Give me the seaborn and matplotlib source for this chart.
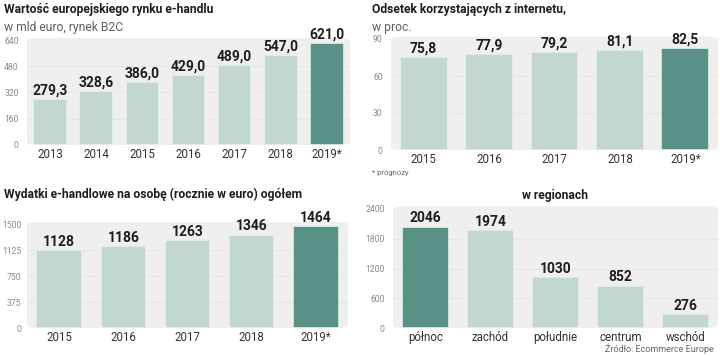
import numpy as np
import pandas as pd
import matplotlib
matplotlib.use("Agg")
import matplotlib.pyplot as plt
import seaborn as sns
from matplotlib.patches import FancyBboxPatch

# =========================
# DATA
# =========================
market_years = ["2013", "2014", "2015", "2016", "2017", "2018", "2019*"]
market_values = [279.3, 328.6, 386.0, 429.0, 489.0, 547.0, 621.0]

internet_years = ["2015", "2016", "2017", "2018", "2019*"]
internet_values = [75.8, 77.9, 79.2, 81.1, 82.5]

spend_years = ["2015", "2016", "2017", "2018", "2019*"]
spend_values = [1128, 1186, 1263, 1346, 1464]

regions = ["północ", "zachód", "południe", "centrum", "wschód"]
region_values = [2046, 1974, 1030, 852, 276]

# =========================
# STYLE
# =========================
sns.set_style("white")
plt.rcParams["font.family"] = ["Roboto", "DejaVu Sans"]

LIGHT = "#bfdad2"
DARK = "#4f9a8b"
BG = "#efefef"
W, H = 720, 356

fig = plt.figure(figsize=(7.2, 3.56), dpi=100)
fig.patch.set_facecolor("white")


def px_axes(left, top, right, bottom):
    return fig.add_axes([left / W, 1 - bottom / H, (right - left) / W, (bottom - top) / H])


def panel(ax, cats, vals, highlight, yticks, fmt, width, pad=6):
    df = pd.DataFrame({"cat": cats, "val": vals})
    df["hl"] = ["h" if c == highlight else "n" for c in cats]
    sns.barplot(data=df, x="cat", y="val", hue="hl", palette={"h": DARK, "n": LIGHT},
                dodge=False, legend=False, width=width, ax=ax,
                edgecolor="#e9f0ed", linewidth=1.2, zorder=3)
    ax.set_facecolor("none")
    ax.add_patch(FancyBboxPatch((0.0, 0.0), 1.0, 1.02, boxstyle="round,pad=0,rounding_size=0.03",
                                transform=ax.transAxes, facecolor=BG, edgecolor="none",
                                zorder=0, clip_on=False))
    ax.set_ylim(0, yticks[-1])
    ax.set_xlim(-0.5, len(cats) - 0.5)
    ax.set_yticks(yticks)
    ax.set_yticklabels([str(t) for t in yticks], fontsize=6.2, color="#8a8a8a")
    ax.tick_params(axis="y", length=0, pad=pad)
    ax.tick_params(axis="x", length=0, pad=2, labelsize=8.3, labelcolor="#333333")
    for s in ax.spines.values():
        s.set_visible(False)
    for t in yticks[1:-1]:
        ax.axhline(t, color="#e5e5e5", lw=0.8, zorder=1)
    ax.set_xlabel("")
    ax.set_ylabel("")
    for i, v in enumerate(vals):
        ax.text(i, v + yticks[-1] * 0.012, fmt(v), ha="center", va="bottom",
                fontsize=10, fontweight="bold", color="#1e1e1e", zorder=4)


comma = lambda v: f"{v:.1f}".replace(".", ",")
integer = lambda v: f"{v:.0f}"

ax1 = px_axes(27, 40, 350, 145)
panel(ax1, market_years, market_values, "2019*", [0, 160, 320, 480, 640], comma, 0.73)

ax2 = px_axes(391, 39, 718, 150)
panel(ax2, internet_years, internet_values, "2019*", [0, 30, 60, 90], comma, 0.73)

ax3 = px_axes(27, 224, 348, 328)
panel(ax3, spend_years, spend_values, "2019*", [0, 375, 750, 1125, 1500], integer, 0.71, pad=4)

ax4 = px_axes(393, 209, 718, 328)
panel(ax4, regions, region_values, "północ", [0, 600, 1200, 1800, 2400], integer, 0.71)

# =========================
# TEXTS
# =========================
def ftext(x, y, s, **kw):
    fig.text(x / W, 1 - y / H, s, **kw)

ftext(4, 10, "Wartość europejskiego rynku e-handlu", fontsize=8.7, fontweight="bold",
      va="center", color="#1e1e1e")
ftext(4, 27, "w mld euro, rynek B2C", fontsize=8.7, va="center", color="#606060")
ftext(372, 10, "Odsetek korzystających z internetu,", fontsize=8.7, fontweight="bold",
      va="center", color="#1e1e1e")
ftext(372, 27, "w proc.", fontsize=8.7, va="center", color="#606060")
ftext(372, 173, "* prognozy", fontsize=5.5, va="center", color="#666666")
ftext(4, 194, "Wydatki e-handlowe na osobę (rocznie w euro) ogółem", fontsize=8.7,
      fontweight="bold", va="center", color="#1e1e1e")
ftext(555, 196, "w regionach", fontsize=8.7, fontweight="bold", va="center",
      ha="center", color="#1e1e1e")
ftext(714, 349, "Źródło: Ecommerce Europe", fontsize=6.5, va="center", ha="right",
      color="#666666")

plt.savefig("out.png", dpi=100)
